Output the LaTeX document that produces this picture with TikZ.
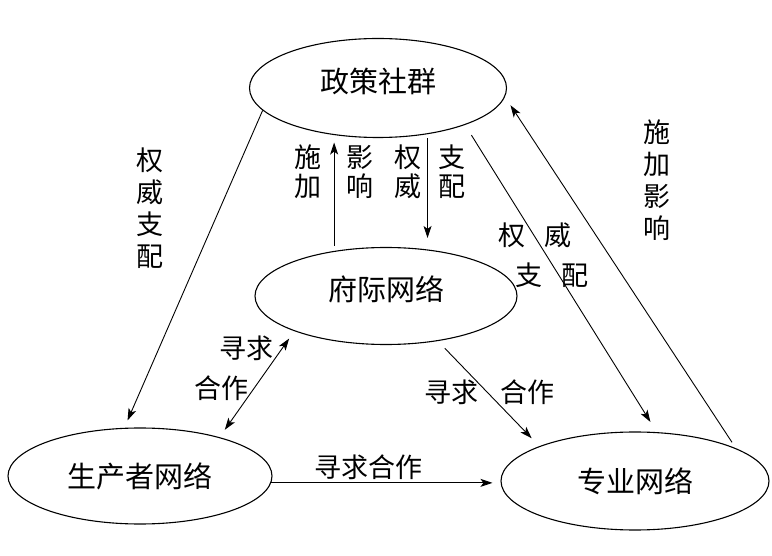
\documentclass[tikz,border=0pt]{standalone}
\usepackage{fontspec}
\setmainfont{Noto Sans CJK SC}
\usetikzlibrary{shapes.geometric,arrows.meta,calc}

\begin{document}
\begin{tikzpicture}[x=1pt,y=-1pt,
        >={Stealth[length=12pt,width=8pt,inset=3pt]},
        net/.style={ellipse, draw, line width=1.1pt, inner sep=0pt, font=\fontsize{29}{32}\selectfont},
        lift/.style={text height=25pt, text depth=15pt},
        arr/.style={->, line width=0.9pt},
        lab/.style={align=center, inner sep=0pt, font=\fontsize{27}{32}\selectfont},
        labs/.style={lab, font=\fontsize{27}{29}\selectfont},]
        \useasboundingbox (0,0) rectangle (772,556);
        % the four networks
        \node[net, lift, minimum width=257pt, minimum height=99pt] (zc) at (378,88) {政策社群};
        \node[net, lift, minimum width=262pt, minimum height=97pt] (fj) at (386,296) {府际网络};
        \node[net, minimum width=264pt, minimum height=96pt] (sc) at (140,476) {生产者网络};
        \node[net, minimum width=268pt, minimum height=98pt] (zy) at (635,481) {专业网络};
        % connectors
        \draw[arr, shorten >=8pt] (zc.191) -- (sc.108);
        \draw[arr, shorten <=5pt, shorten >=4.5pt] (fj.139) -- (fj.139 |- zc.south);
        \draw[arr, shorten <=4pt, shorten >=9pt] (zc.317) -- (zc.317 |- fj.north);
        \draw[arr, shorten <=12pt, shorten >=12pt] (zc.337) -- (zy.66);
        \draw[arr, shorten <=7pt, shorten >=10pt] (zy.18) -- (zc.356);
        \draw[arr, <->, shorten <=9pt, shorten >=9pt] (fj.201) -- (sc.26);
        \draw[arr, shorten <=10pt, shorten >=11pt] (fj.319) -- (zy.160);
        \draw[arr, shorten >=8pt] (sc.-3) -- (sc.-3 -| zy.west);
        % labels
        \node[lab] (l1) at (150,208) {权\\威\\支\\配};
        \node[labs] (l2) at (308,172) {施\\加};
        \node[labs] (l3) at (360,172) {影\\响};
        \node[labs] (l4) at (408,172) {权\\威};
        \node[labs] (l5) at (452,172) {支\\配};
        \node[lab] (l6) at (657,180) {施\\加\\影\\响};
        \node[lab] (l7) at (535,235) {权\hspace{0.7em}威};
        \node[lab] (l8) at (552,275) {支\hspace{0.7em}配};
        \node[lab] (l9) at (246,348) {寻求};
        \node[lab] (l10) at (221,388) {合作};
        \node[lab] (l11) at (451,392) {寻求};
        \node[lab] (l12) at (527,392) {合作};
        \node[lab] (l13) at (368,467) {寻求合作};
\end{tikzpicture}
\end{document}
